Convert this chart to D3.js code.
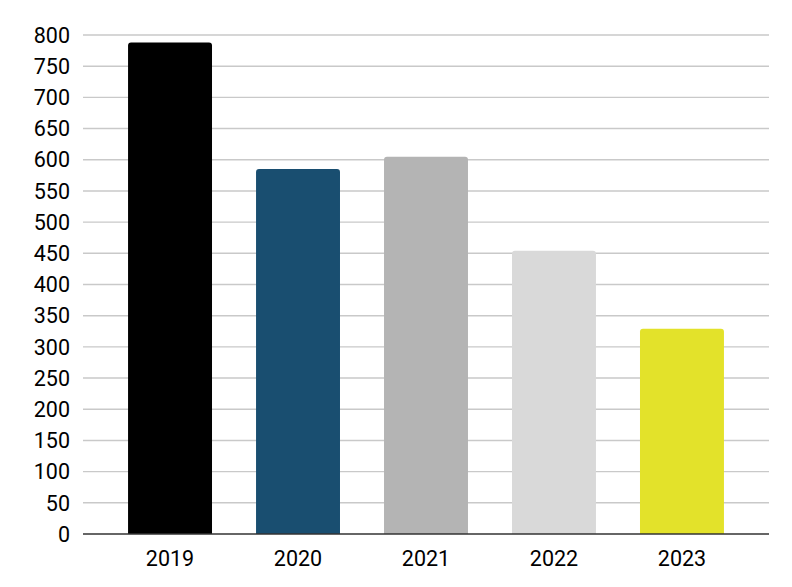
<!DOCTYPE html>
<meta charset="utf-8">
<script src="https://d3js.org/d3.v7.min.js"></script>
<style>
  body { margin: 0; background: #fff; }
  text { font-family: Roboto, "Liberation Sans", sans-serif; fill: #000; }
</style>
<div id="chart"></div>
<script>

// data
var years = ["2019", "2020", "2021", "2022", "2023"];
var values = [788, 585, 605, 454, 329];
var barColors = ["#000000", "#194e70", "#b4b4b4", "#d9d9d9", "#e3e22a"];
var yTicks = d3.range(0, 801, 50);

var margin = {top: 35, right: 23, bottom: 53, left: 83},
    width = 792 - margin.left - margin.right,
    height = 587 - margin.top - margin.bottom;

var svg = d3.select("#chart")
  .append("svg")
    .attr("width", 792)
    .attr("height", 587)
  .append("g")
    .attr("transform", "translate(" + margin.left + "," + margin.top + ")");

var x = d3.scaleBand()
  .domain(years)
  .range([0, width])
  .paddingInner(0.344)
  .paddingOuter(0.352);

var y = d3.scaleLinear()
  .domain([0, 800])
  .range([height, 0]);

// gridlines
svg.selectAll(".grid")
  .data(yTicks.filter(function(d) { return d > 0; }))
  .enter()
  .append("line")
    .attr("x1", 0)
    .attr("x2", width)
    .attr("y1", function(d) { return y(d); })
    .attr("y2", function(d) { return y(d); })
    .attr("stroke", "#c9c9c9")
    .attr("stroke-width", 1.4);

// y labels
svg.selectAll(".ylab")
  .data(yTicks)
  .enter()
  .append("text")
    .attr("x", -13)
    .attr("y", function(d) { return y(d); })
    .attr("dy", "0.36em")
    .attr("text-anchor", "end")
    .style("font-size", "21.5px")
    .text(function(d) { return d; });

// bars, rounded on top only
function barPath(d, i) {
  var x0 = x(years[i]), w = x.bandwidth();
  var y0 = y(d), y1 = y(0), r = 3;
  return "M" + x0 + "," + y1 +
    "V" + (y0 + r) +
    "Q" + x0 + "," + y0 + " " + (x0 + r) + "," + y0 +
    "H" + (x0 + w - r) +
    "Q" + (x0 + w) + "," + y0 + " " + (x0 + w) + "," + (y0 + r) +
    "V" + y1 + "Z";
}

svg.selectAll(".bar")
  .data(values)
  .enter()
  .append("path")
    .attr("d", barPath)
    .attr("fill", function(d, i) { return barColors[i]; });

// baseline
svg.append("line")
  .attr("x1", 0)
  .attr("x2", width)
  .attr("y1", y(0))
  .attr("y2", y(0))
  .attr("stroke", "#333")
  .attr("stroke-width", 1.6);

// x labels
svg.selectAll(".xlab")
  .data(years)
  .enter()
  .append("text")
    .attr("x", function(d) { return x(d) + x.bandwidth() / 2; })
    .attr("y", height + 32)
    .attr("text-anchor", "middle")
    .style("font-size", "21.5px")
    .text(function(d) { return d; });

</script>
